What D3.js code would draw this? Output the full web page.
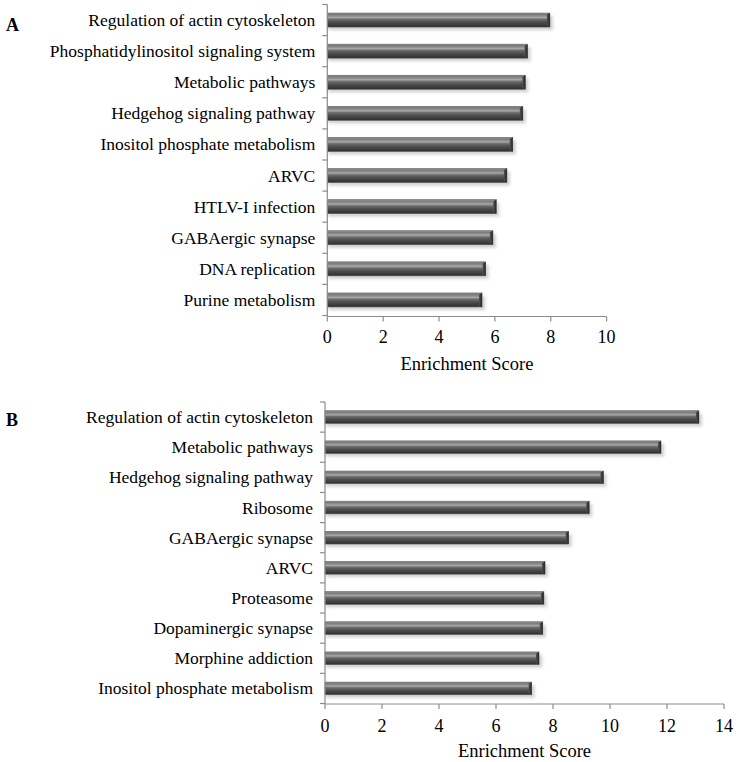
<!DOCTYPE html>
<html>
<head>
<meta charset="utf-8">
<script src="https://cdn.jsdelivr.net/npm/d3@7"></script>
<style>
  html, body { margin: 0; padding: 0; background: #fff; }
  svg { display: block; }
  text { font-family: "Liberation Serif", "Times New Roman", serif; fill: #000; }
</style>
</head>
<body>
<svg id="chart" width="738" height="762"></svg>
<script>
// ---- Data ----
const categoriesA = [
  "Regulation of actin cytoskeleton",
  "Phosphatidylinositol signaling system",
  "Metabolic pathways",
  "Hedgehog signaling pathway",
  "Inositol phosphate metabolism",
  "ARVC",
  "HTLV-I infection",
  "GABAergic synapse",
  "DNA replication",
  "Purine metabolism"
];
const valuesA = [7.97, 7.17, 7.09, 7.0, 6.64, 6.43, 6.05, 5.93, 5.67, 5.54];
const ticksA = [0, 2, 4, 6, 8, 10];

const categoriesB = [
  "Regulation of actin cytoskeleton",
  "Metabolic pathways",
  "Hedgehog signaling pathway",
  "Ribosome",
  "GABAergic synapse",
  "ARVC",
  "Proteasome",
  "Dopaminergic synapse",
  "Morphine addiction",
  "Inositol phosphate metabolism"
];
const valuesB = [13.12, 11.79, 9.77, 9.27, 8.55, 7.72, 7.68, 7.64, 7.51, 7.25];
const ticksB = [0, 2, 4, 6, 8, 10, 12, 14];

const axisTitle = "Enrichment Score";

// ---- Drawing ----
const svg = d3.select("#chart");
const defs = svg.append("defs");

const grad = defs.append("linearGradient")
  .attr("id", "barGrad").attr("x1", 0).attr("y1", 0).attr("x2", 0).attr("y2", 1);
[[0, "#9a9a9a"], [0.1, "#7a7a7a"], [0.22, "#8e8e8e"], [0.32, "#a9a9a9"], [0.45, "#6c6c6c"],
 [0.65, "#4e4e4e"], [0.85, "#3c3c3c"], [1, "#2c2c2c"]]
  .forEach(([o, c]) => grad.append("stop").attr("offset", o).attr("stop-color", c));

const capGrad = defs.append("linearGradient")
  .attr("id", "capGrad").attr("x1", 0).attr("y1", 0).attr("x2", 1).attr("y2", 0);
[[0, "#555"], [0.5, "#3a3a3a"], [1, "#2a2a2a"]]
  .forEach(([o, c]) => capGrad.append("stop").attr("offset", o).attr("stop-color", c));

const blur = defs.append("filter").attr("id", "shadow")
  .attr("x", "-5%").attr("y", "-50%").attr("width", "110%").attr("height", "200%");
blur.append("feGaussianBlur").attr("stdDeviation", 1.6);

function panel(cfg) {
  const { cats, vals, ticks, xRange, yRange, pad, axisY, tickBaseline, titleBaseline, label, labelPos } = cfg;
  const x = d3.scaleLinear().domain([d3.min(ticks), d3.max(ticks)]).range(xRange);
  const y = d3.scaleBand().domain(cats).range(yRange).paddingInner(pad).paddingOuter(pad / 2);
  const g = svg.append("g");
  const x0 = x(0);
  const axisColor = "#8c8c8c";

  // shadows
  g.selectAll("rect.shadow").data(vals).join("rect")
    .attr("class", "shadow")
    .attr("x", x0 + 1)
    .attr("y", (d, i) => y(cats[i]) + 3)
    .attr("width", d => x(d) - x0 + 2)
    .attr("height", y.bandwidth())
    .attr("fill", "#bdbdbd")
    .attr("opacity", 0.7)
    .attr("filter", "url(#shadow)");

  // bars
  g.selectAll("rect.bar").data(vals).join("rect")
    .attr("class", "bar")
    .attr("x", x0)
    .attr("y", (d, i) => y(cats[i]))
    .attr("width", d => x(d) - x0)
    .attr("height", y.bandwidth())
    .attr("fill", "url(#barGrad)")
    .attr("stroke", "#5a5a5a")
    .attr("stroke-width", 0.6);

  // end caps (bevel)
  g.selectAll("path.cap").data(vals).join("path")
    .attr("class", "cap")
    .attr("d", (d, i) => {
      const xe = x(d), yt = y(cats[i]), h = y.bandwidth();
      return `M${xe - 3},${yt + 1.5} L${xe},${yt} L${xe},${yt + h} L${xe - 3},${yt + h - 1.5} Z`;
    })
    .attr("fill", "url(#capGrad)");

  // y axis line + ticks at band boundaries
  const step = y.step();
  const bounds = [yRange[0]].concat(cats.map(c => y(c) + y.bandwidth() + (step - y.bandwidth()) / 2));
  g.append("line")
    .attr("x1", x0).attr("x2", x0)
    .attr("y1", yRange[0]).attr("y2", axisY)
    .attr("stroke", axisColor).attr("stroke-width", 1.2);
  g.selectAll("line.ytick").data(bounds).join("line")
    .attr("class", "ytick")
    .attr("x1", x0 - 5).attr("x2", x0)
    .attr("y1", d => d).attr("y2", d => d)
    .attr("stroke", axisColor).attr("stroke-width", 1.2);

  // category labels
  g.selectAll("text.cat").data(cats).join("text")
    .attr("class", "cat")
    .attr("x", x0 - 12)
    .attr("y", d => y(d) + y.bandwidth() / 2 + 6)
    .attr("text-anchor", "end")
    .attr("font-size", 17.5)
    .text(d => d);

  // x axis
  g.append("line")
    .attr("x1", x0).attr("x2", x(d3.max(ticks)))
    .attr("y1", axisY).attr("y2", axisY)
    .attr("stroke", axisColor).attr("stroke-width", 1.2);
  g.selectAll("line.xtick").data(ticks).join("line")
    .attr("class", "xtick")
    .attr("x1", d => x(d)).attr("x2", d => x(d))
    .attr("y1", axisY).attr("y2", axisY + 5)
    .attr("stroke", axisColor).attr("stroke-width", 1.2);
  g.selectAll("text.xlab").data(ticks).join("text")
    .attr("class", "xlab")
    .attr("x", d => x(d))
    .attr("y", tickBaseline)
    .attr("text-anchor", "middle")
    .attr("font-size", 18)
    .text(d => d);

  g.append("text")
    .attr("x", (xRange[0] + xRange[1]) / 2)
    .attr("y", titleBaseline)
    .attr("text-anchor", "middle")
    .attr("font-size", 18.5)
    .text(axisTitle);

  g.append("text")
    .attr("x", labelPos[0]).attr("y", labelPos[1])
    .attr("font-size", 18)
    .attr("font-weight", "bold")
    .text(label);
}

panel({
  cats: categoriesA, vals: valuesA, ticks: ticksA,
  xRange: [327.3, 606.6], yRange: [4.5, 315.5], pad: 0.55,
  axisY: 316.5, tickBaseline: 343, titleBaseline: 370,
  label: "A", labelPos: [6, 31]
});

panel({
  cats: categoriesB, vals: valuesB, ticks: ticksB,
  xRange: [325, 724], yRange: [402, 703.5], pad: 0.58,
  axisY: 704, tickBaseline: 732, titleBaseline: 757,
  label: "B", labelPos: [6, 426]
});
</script>
</body>
</html>
